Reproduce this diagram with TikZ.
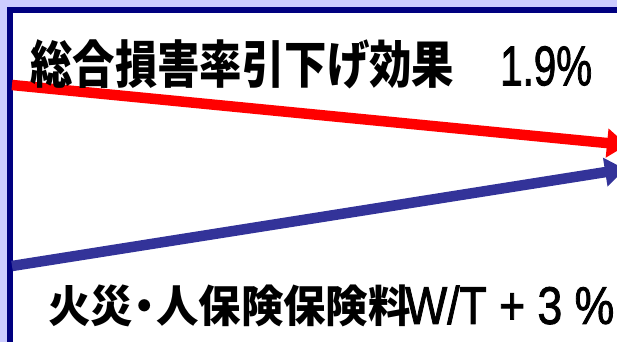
\documentclass[tikz,border=0pt]{standalone}
\usepackage{fontspec}
\usepackage{graphicx}
\usepackage{tikz}
\usetikzlibrary{arrows.meta, positioning}
\newfontfamily\jpfont{Noto Sans CJK JP}
\newfontfamily\numfont{Liberation Sans}[RawFeature={embolden=1.8}]
\definecolor{lavender}{HTML}{CCCCFF}
\definecolor{frame}{HTML}{000080}
\definecolor{upred}{HTML}{FF0000}
\definecolor{downblue}{HTML}{333399}
\tikzset{
  trend/.style = {line width=10.5pt, -{Triangle[length=20pt, width=28pt]}},
  label/.style = {inner sep=0pt, font=\jpfont\bfseries}
}

\begin{document}
\begin{tikzpicture}[x=1pt, y=-1pt]
        \useasboundingbox (0,0) rectangle (617,342);
        \clip (0,0) rectangle (617,342);
        \fill[lavender] (0,0) rectangle (617,342);
        \fill[white] (13,13) rectangle (617,342);
        \fill[frame] (7,7) rectangle (617,13);
        \fill[frame] (7,7) rectangle (13,342);
        % arrows
        \coordinate (redstart) at (12,85);
        \coordinate (redend) at (627,145);
        \coordinate (bluestart) at (12,266);
        \coordinate (blueend) at (625,169);
        \draw[trend, upred] (redstart) -- (redend);
        \draw[trend, downblue] (bluestart) -- (blueend);
        % texts
        \node[label, anchor=west] (effect) at (30,64)
            {\scalebox{1.01}[1.22]{\fontsize{42}{42}\selectfont 総合損害率引下げ効果}};
        \node[inner sep=0pt, anchor=west] (rate) at (500,66)
            {\scalebox{0.72}[1]{\numfont\fontsize{56}{56}\selectfont 1.9\%}};
        \node[label, anchor=west] (fire) at (48,306)
            {\scalebox{1.06}[1.1]{\fontsize{40}{40}\selectfont 火災\makebox[0.55em]{・}人保険保険料}};
        \node[inner sep=0pt, anchor=west] (wt) at (405,305)
            {\scalebox{0.84}[1]{\numfont\fontsize{53}{53}\selectfont W/T + 3 \%}};
\end{tikzpicture}
\end{document}
